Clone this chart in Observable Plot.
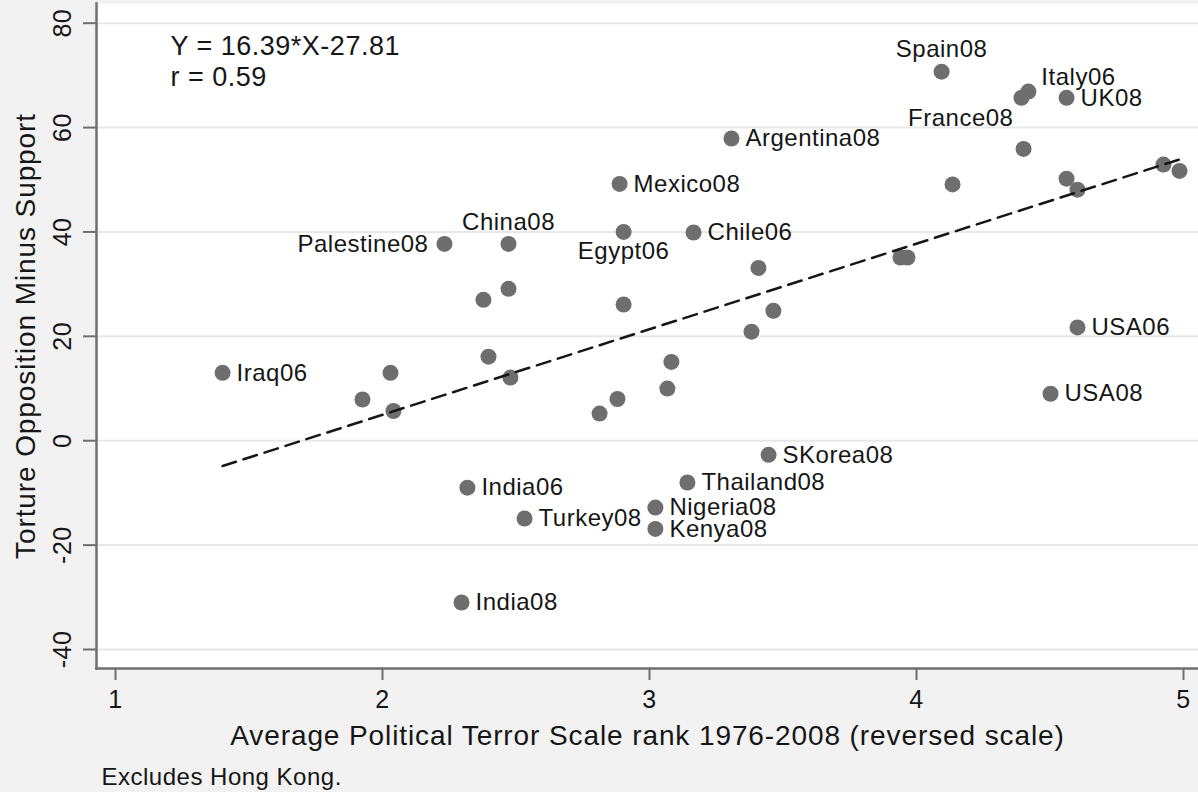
<!DOCTYPE html>
<html><head><meta charset="utf-8">
<script src="https://cdn.jsdelivr.net/npm/d3@7"></script>
<script src="https://cdn.jsdelivr.net/npm/@observablehq/plot@0.6"></script>
<style>
html,body{margin:0;padding:0;background:#f2f2f2;}
#chart svg{display:block;}
#chart svg text{letter-spacing:0.5px;}
#chart svg .ttl text{letter-spacing:0.9px;}
</style></head><body><div id="chart"></div>
<script>
// ---- data ----
const countries = ["Iraq06","","","","Palestine08","India06","India08","","","China08","","","Turkey08","","","Mexico08","Egypt06","","Nigeria08","Kenya08","","","Thailand08","Chile06","Argentina08","","","SKorea08","","","","Spain08","","France08","Italy06","","UK08","","","USA08","USA06","",""];
const ptsRank = [1.401,1.925,2.030,2.041,2.232,2.318,2.296,2.378,2.397,2.472,2.472,2.479,2.532,2.813,2.880,2.888,2.903,2.903,3.022,3.022,3.067,3.082,3.142,3.165,3.307,3.382,3.408,3.446,3.464,3.940,3.966,4.094,4.135,4.393,4.419,4.401,4.562,4.562,4.603,4.502,4.603,4.925,4.985];
const oppMinusSupport = [13.0,7.9,13.0,5.7,37.7,-9.0,-31.0,27.0,16.1,37.7,29.1,12.1,-14.9,5.2,8.0,49.2,40.0,26.1,-12.8,-16.9,10.0,15.1,-8.0,39.9,57.9,20.9,33.1,-2.7,24.9,35.1,35.1,70.7,49.1,65.7,66.9,55.9,65.7,50.2,48.1,9.0,21.7,52.9,51.7];
const xTicks = [1,2,3,4,5];
const yTicks = [-40,-20,0,20,40,60,80];
const fitSlope = 16.39, fitIntercept = -27.81, fitR = 0.59;
const xTitle = "Average Political Terror Scale rank 1976-2008 (reversed scale)";
const yTitle = "Torture Opposition Minus Support";
const note = "Excludes Hong Kong.";

// label placement (clock position, Stata style)
const labelClock = {Palestine08: 9, China08: 12, Spain08: 12, Egypt06: 6, Italy06: 1, France08: 7};
const clockOffsets = {
  3: {dx: 14, dy: 0, textAnchor: "start"},
  9: {dx: -16, dy: 0, textAnchor: "end"},
  12: {dx: 0, dy: -22, textAnchor: "middle"},
  6: {dx: 0, dy: 19, textAnchor: "middle"},
  1: {dx: 13, dy: -14, textAnchor: "start"},
  7: {dx: -8, dy: 20, textAnchor: "end"}
};

const data = countries.map((c, i) => ({label: c, x: ptsRank[i], y: oppMinusSupport[i], clock: labelClock[c] || 3}));
const fitLine = d3.extent(ptsRank).map(x => ({x, y: fitSlope * x + fitIntercept}));
const eqText = `Y = ${fitSlope}*X${fitIntercept}\nr = ${fitR}`;

const axisGray = "#6f6f6f";
const ink = "#161616";
const plainNum = d => String(d);

const labelMarks = Object.entries(clockOffsets).map(([clock, o]) =>
  Plot.text(data.filter(d => d.label && String(d.clock) === clock), {
    x: "x", y: "y", text: "label", dx: o.dx, dy: o.dy, textAnchor: o.textAnchor,
    lineAnchor: "middle", fontSize: 24, fill: ink
  })
);

const chart = Plot.plot({
  width: 1198, height: 792,
  marginTop: 3, marginRight: 0, marginBottom: 124, marginLeft: 96,
  style: {background: "transparent", fontFamily: "'Liberation Sans', Arial, Helvetica, sans-serif", color: ink},
  x: {domain: [1 - 0.0712, 5 + 0.0562]},
  y: {domain: [-43.64, 83.77]},
  marks: [
    Plot.frame({fill: "white", stroke: "none"}),
    Plot.gridY(yTicks, {stroke: "#e8e8e8", strokeOpacity: 1, strokeWidth: 2}),
    Plot.frame({anchor: "left", stroke: axisGray, strokeWidth: 2.5}),
    Plot.frame({anchor: "bottom", stroke: axisGray, strokeWidth: 2.5}),
    Plot.axisY(yTicks, {tickSize: 13, tickPadding: 13, tickRotate: -90, fontSize: 25, stroke: axisGray, strokeWidth: 2, fill: ink, label: null, tickFormat: plainNum}),
    Plot.axisX(xTicks, {tickSize: 12, tickPadding: 10, fontSize: 25, stroke: axisGray, strokeWidth: 2, fill: ink, label: null, tickFormat: plainNum}),
    Plot.dot(data, {x: "x", y: "y", r: 8, fill: "#6e6e6e", stroke: "none"}),
    Plot.line(fitLine, {x: "x", y: "y", stroke: ink, strokeWidth: 2.5, strokeDasharray: "14,8"}),
    ...labelMarks,
    Plot.text([eqText], {text: d => d, frameAnchor: "top-left", dx: 74, dy: 29, textAnchor: "start", lineAnchor: "top", fontSize: 27, lineHeight: 1.15, fill: ink}),
    Plot.text([yTitle], {text: d => d, frameAnchor: "left", dx: -70, rotate: -90, textAnchor: "middle", lineAnchor: "middle", fontSize: 28, fill: ink, className: "ttl"}),
    Plot.text([xTitle], {text: d => d, frameAnchor: "bottom", dy: 68, textAnchor: "middle", lineAnchor: "middle", fontSize: 28, fill: ink, className: "ttl"}),
    Plot.text([note], {text: d => d, frameAnchor: "bottom-left", dx: 5, dy: 109, textAnchor: "start", lineAnchor: "middle", fontSize: 24, fill: ink})
  ]
});
document.getElementById("chart").appendChild(chart);
</script>
</body></html>
